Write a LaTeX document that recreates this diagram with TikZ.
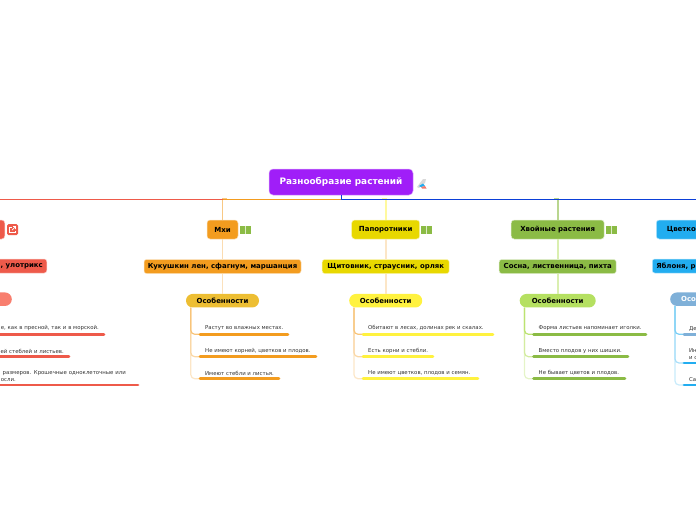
\documentclass[tikz,border=0pt]{standalone}
\usepackage{xcolor}
\usepackage{fontspec}
\setmainfont{DejaVu Sans}
\usetikzlibrary{positioning}
\definecolor{plantpurple}{HTML}{A01EF8}
\definecolor{busblue}{HTML}{0B3FD8}
\definecolor{plantred}{HTML}{EE5A4A}
\definecolor{plantsalmon}{HTML}{F87E6E}
\definecolor{plantorange}{HTML}{F39C1F}
\definecolor{plantgold}{HTML}{EDBE33}
\definecolor{plantyellow}{HTML}{E8D800}
\definecolor{plantlemon}{HTML}{FFF23F}
\definecolor{plantgreen}{HTML}{8BBB45}
\definecolor{plantlime}{HTML}{B5E061}
\definecolor{plantsky}{HTML}{22ADF0}
\definecolor{plantsteel}{HTML}{7FB0D8}
\tikzset{
  rootbox/.style={fill=plantpurple,draw=plantpurple!40,line width=.5pt,rounded corners=4pt,minimum width=144pt,minimum height=26pt,text=white,font=\bfseries\fontsize{8.9}{10}\selectfont},
  branchbox/.style={rounded corners=3pt,draw=white!70!#1,fill=#1,line width=.5pt,minimum height=19pt,inner xsep=0pt,font=\bfseries\fontsize{7}{8}\selectfont},
  kindbox/.style={rounded corners=2.5pt,draw=white!70!#1,fill=#1,line width=.5pt,minimum height=14pt,inner xsep=0pt,font=\bfseries\fontsize{6.95}{8}\selectfont},
  pillbox/.style={rounded corners=6.7pt,fill=#1,minimum height=13.5pt,minimum width=73pt,inner xsep=0pt,font=\bfseries\fontsize{6.95}{8}\selectfont},
  leafbox/.style={anchor=south west,inner xsep=5pt,inner ysep=3pt,align=left,text=black!80,font=\fontsize{5.4}{7}\selectfont},
  leafedge/.style={anchor=south east,inner xsep=5pt,inner ysep=3pt,align=right,text=black!80,font=\fontsize{5.4}{7}\selectfont},
  leafline/.style={line width=2.8pt,line cap=round,#1},
  stem/.style={line width=1.8pt,#1},
  twig/.style={line width=1.2pt,rounded corners=4pt,#1},
  bookicon/.style={fill=plantgreen,minimum width=11pt,minimum height=8pt,inner sep=0pt,path picture={\draw[white!70!plantgreen,line width=.8pt] (path picture bounding box.north) -- (path picture bounding box.south);}},
}
\begin{document}
\begin{tikzpicture}[x=1pt,y=-1pt,node distance=20pt]
\path[use as bounding box] (0,0) rectangle (696,520);

\node[rootbox] (root) at (341,182) {Разнообразие растений};
\coordinate (busl) at (0,199);
\coordinate (busm) at (341,199);
\coordinate (busr) at (696,199);

% red branch, cut by the page
\node[branchbox=plantred,anchor=east,minimum width=60pt] (red) at (5,229.5) {};
\node[kindbox=plantred,anchor=east,text width=60pt,align=right,inner xsep=4pt] (redkind) at (47,266) {, улотрикс};
\node[pillbox=plantsalmon,anchor=east] (redpill) at (12,299.2) {};
\node[leafedge,text width=115pt] (red1) at (104,334.3) {е, как в пресной, так и в морской.};
\node[leafedge,text width=85pt] (red2) at (69,356.7) {ей стеблей и листьев.};
\node[leafedge,text width=133pt,inner xsep=0pt,xshift=-12pt] (red3) at (138,385) {размеров. Крошечные одноклеточные или\\осли.\hspace*{110pt}};
\draw[leafline=plantred] ([xshift=-10pt]red1.south west) -- (red1.south east);
\draw[leafline=plantred] ([xshift=-10pt]red2.south west) -- (red2.south east);
\draw[leafline=plantred] (red3.south west) -- ([xshift=12pt]red3.south east);

% mosses
\node[branchbox=plantorange,minimum width=31pt] (moss) at (222.5,229.5) {Мхи};
\node[kindbox=plantorange,minimum width=157pt,below=of moss] (mosskind) {Кукушкин лен, сфагнум, маршанция};
\node[pillbox=plantgold,below=of mosskind] (mosspill) {Особенности};
\node[leafbox] (moss1) at (200,334.3) {Растут во влажных местах.};
\node[leafbox] (moss2) at (200,356.7) {Не имеют корней, цветков и плодов.};
\node[leafbox] (moss3) at (200,378.7) {Имеют стебли и листья.};
\draw[stem=plantorange!55] (moss.north) |- ([xshift=4pt]moss.north|-busm);
\draw[stem=plantorange!35] (moss) -- (mosskind);
\draw[stem=plantorange!30] (mosskind) -- (mosspill);
\draw[twig=plantorange!25] ([xshift=5pt]mosspill.south west) |- (moss3.south west);
\draw[twig=plantorange!40] ([xshift=5pt]mosspill.south west) |- (moss2.south west);
\draw[twig=plantorange!60] ([xshift=5pt]mosspill.south west) |- (moss1.south west);
\draw[leafline=plantorange] (moss1.south west) -- ++(88,0);
\draw[leafline=plantorange] (moss2.south west) -- ++(116,0);
\draw[leafline=plantorange] (moss3.south west) -- ++(79,0);

% ferns
\node[branchbox=plantyellow,minimum width=68pt] (fern) at (385.7,229.5) {Папоротники};
\node[kindbox=plantyellow,minimum width=127pt,below=of fern] (fernkind) {Щитовник, страусник, орляк};
\node[pillbox=plantlemon,below=of fernkind] (fernpill) {Особенности};
\node[leafbox] (fern1) at (363,334.3) {Обитают в лесах, долинах рек и скалах.};
\node[leafbox] (fern2) at (363,356.7) {Есть корни и стебли.};
\node[leafbox] (fern3) at (363,378.7) {Не имеют цветков, плодов и семян.};
\draw[stem=plantlemon!50] (fern.north) |- ([xshift=-4pt]fern.north|-busm);
\draw[stem=plantorange!25] (fern) -- (fernkind);
\draw[stem=plantorange!25] (fernkind) -- (fernpill);
\draw[twig=plantorange!25] ([xshift=5pt]fernpill.south west) |- (fern3.south west);
\draw[twig=plantorange!40] ([xshift=5pt]fernpill.south west) |- (fern2.south west);
\draw[twig=plantorange!60] ([xshift=5pt]fernpill.south west) |- (fern1.south west);
\draw[leafline=plantlemon] (fern1.south west) -- ++(130,0);
\draw[leafline=plantlemon] (fern2.south west) -- ++(70,0);
\draw[leafline=plantlemon] (fern3.south west) -- ++(115,0);

% conifers
\node[branchbox=plantgreen,minimum width=93pt] (pine) at (557.7,229.5) {Хвойные растения};
\node[kindbox=plantgreen,minimum width=117pt,below=of pine] (pinekind) {Сосна, лиственница, пихта};
\node[pillbox=plantlime,minimum width=76pt,below=of pinekind] (pinepill) {Особенности};
\node[leafbox] (pine1) at (533.5,334.3) {Форма листьев напоминает иголки.};
\node[leafbox] (pine2) at (533.5,356.7) {Вместо плодов у них шишки.};
\node[leafbox] (pine3) at (533.5,378.7) {Не бывает цветов и плодов.};
\draw[stem=plantgreen!60] (pine.north) |- ([xshift=-4pt]pine.north|-busm);
\draw[stem=plantlime!50] (pine) -- (pinekind);
\draw[stem=plantlime!50] (pinekind) -- (pinepill);
\draw[twig=plantlime!35] ([xshift=5pt]pinepill.south west) |- (pine3.south west);
\draw[twig=plantlime!60] ([xshift=5pt]pinepill.south west) |- (pine2.south west);
\draw[twig=plantlime!90] ([xshift=5pt]pinepill.south west) |- (pine1.south west);
\draw[leafline=plantgreen] (pine1.south west) -- ++(112.5,0);
\draw[leafline=plantgreen] (pine2.south west) -- ++(94.5,0);
\draw[leafline=plantgreen] (pine3.south west) -- ++(91.5,0);

% flowering plants, cut by the page
\node[branchbox=plantsky,anchor=west,text width=60pt,align=left,inner xsep=10.5pt] (bloom) at (656,229.5) {Цветко};
\node[kindbox=plantsky,anchor=west,text width=60pt,align=left,inner xsep=4pt] (bloomkind) at (652,266) {Яблоня, р};
\node[pillbox=plantsteel,anchor=west,text=white,text width=60pt,align=left,inner xsep=11pt] (bloompill) at (670,299.2) {Осо};
\node[leafbox] (bloom1) at (684,334.3) {Де};
\node[leafbox] (bloom2) at (684,363) {Ин\\и с};
\node[leafbox] (bloom3) at (684,385) {Са};
\draw[twig=plantsky!25] ([xshift=5pt]bloompill.south west) |- (bloom3.south west);
\draw[twig=plantsky!40] ([xshift=5pt]bloompill.south west) |- (bloom2.south west);
\draw[twig=plantsky!60] ([xshift=5pt]bloompill.south west) |- (bloom1.south west);
\draw[leafline=plantsteel] (bloom1.south west) -- ++(40,0);
\draw[leafline=plantsky] (bloom2.south west) -- ++(40,0);
\draw[leafline=plantsky] (bloom3.south west) -- ++(40,0);

% main line
\draw[line width=1pt,plantred] (busl) -- (moss.north|-busm);
\draw[line width=1pt,plantorange] (moss.north|-busm) -- (busm);
\draw[line width=1pt,busblue] (busm) -- (busr);
\draw[line width=1pt,busblue] (root) -- (busm);

% icons
\node[bookicon] (mossbook) at (245.5,229.5) {};
\node[bookicon] (fernbook) at (426.8,229.5) {};
\node[bookicon] (pinebook) at (611.5,229.5) {};
\node[fill=plantred,rounded corners=1.5pt,minimum size=11pt,inner sep=0pt] (redlink) at (12.5,229.5) {};
\draw[white,line width=.7pt] (11.5,227) -- (9.7,227) -- (9.7,232.3) -- (15,232.3) -- (15,230.5);
\draw[white,line width=.7pt] (12,230) -- (15.5,226.5) (13,226.5) -- (15.5,226.5) -- (15.5,229);
\fill[black!15] (417,187) -- (423,179) -- (426,179) -- (425,183) -- (419,188) -- cycle;
\fill[plantsky] (419,186) -- (423,183.5) -- (425,186) -- (421,187) -- cycle;
\fill[plantred!80] (421,187) -- (425,186) -- (426.5,188.5) -- (422,188.5) -- cycle;
\end{tikzpicture}
\end{document}
